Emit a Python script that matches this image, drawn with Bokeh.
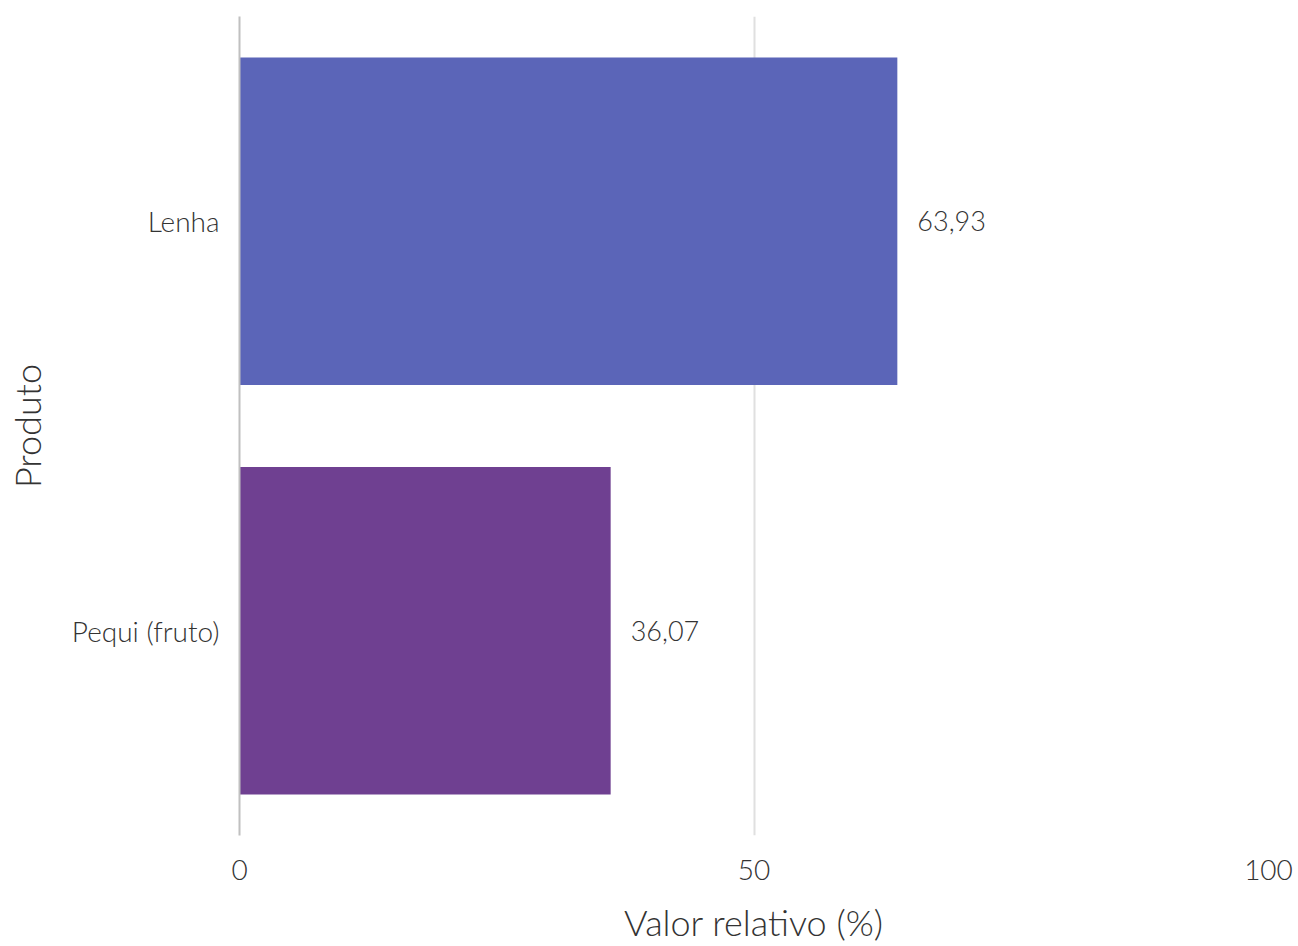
from bokeh.plotting import figure
from bokeh.models import ColumnDataSource, Range1d, FactorRange, FixedTicker
from bokeh.core.properties import value
from bokeh.embed import file_html
from bokeh.resources import INLINE

produtos = ["Lenha", "Pequi (fruto)"]
valores = [63.93, 36.07]
cores = ["#5B65B8", "#6F4091"]
x_ticks = [0, 50, 100]

FONT = "Lato Light"
TXT = "#333333"

rotulos = [f"{v:.2f}".replace(".", ",") for v in valores]
src = ColumnDataSource(dict(produto=produtos, valor=valores, cor=cores, rotulo=rotulos))

p = figure(
    width=1298, height=946,
    y_range=FactorRange(factors=list(reversed(produtos))),
    x_range=Range1d(0, 100),
    output_backend="svg", toolbar_location=None,
    min_border_left=239, min_border_top=16, min_border_right=30, min_border_bottom=108,
)
p.outline_line_color = None
p.background_fill_color = "white"
p.border_fill_color = "white"

p.hbar(y="produto", right="valor", left=0, height=0.8, fill_color="cor", line_color=None, source=src)
p.text(x="valor", y="produto", text="rotulo", source=src, x_offset=20,
       text_align="left", text_baseline="middle", text_font=value(FONT),
       text_font_size="27px", text_color=TXT)

p.xaxis.ticker = FixedTicker(ticks=x_ticks)
p.xgrid.ticker = FixedTicker(ticks=x_ticks)
p.xgrid.grid_line_color = "#e0e0e0"
p.xgrid.grid_line_width = 2
p.ygrid.grid_line_color = None

for ax in (p.xaxis, p.yaxis):
    ax.major_tick_line_color = None
    ax.minor_tick_line_color = None
    ax.major_label_text_font = FONT
    ax.major_label_text_font_size = "28px"
    ax.major_label_text_color = TXT
    ax.axis_label_text_font = FONT
    ax.axis_label_text_font_size = "36px"
    ax.axis_label_text_font_style = "normal"
    ax.axis_label_text_color = TXT

p.xaxis.axis_line_color = None
p.yaxis.axis_line_color = "#c0c0c0"
p.yaxis.axis_line_width = 2

p.xaxis.axis_label = "Valor relativo (%)"
p.yaxis.axis_label = "Produto"
p.xaxis.major_label_standoff = 18
p.xaxis.axis_label_standoff = 17
p.yaxis.major_label_standoff = 14
p.yaxis.axis_label_standoff = 20

open("out.html", "w").write(file_html(p, INLINE))
